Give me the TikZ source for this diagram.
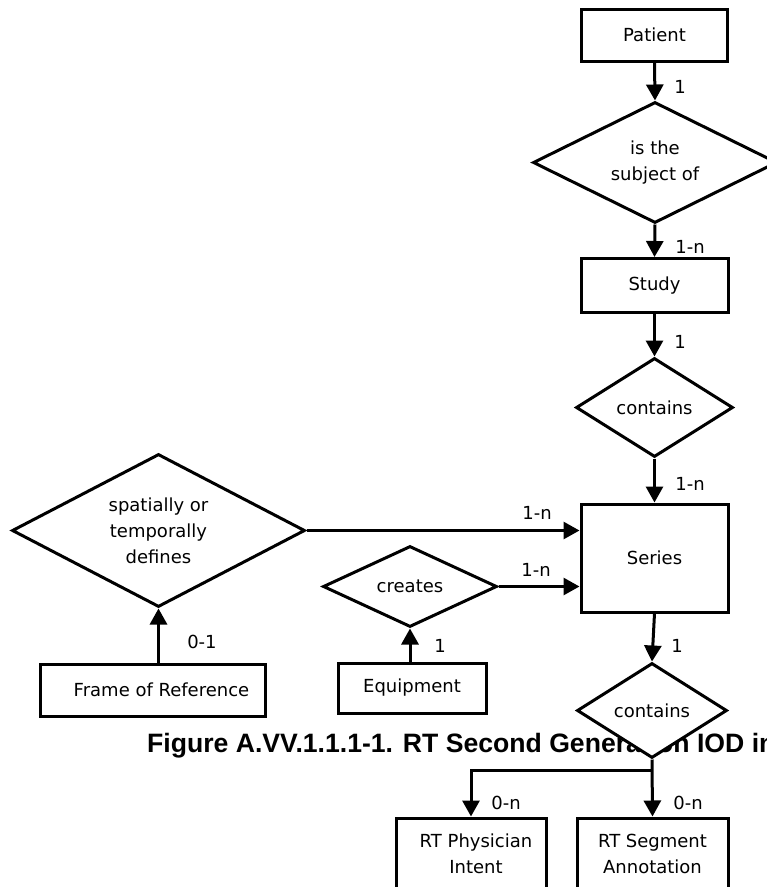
\documentclass[tikz,border=0pt]{standalone}
\usepackage{fontspec}
\setmainfont{DejaVu Sans}
\newfontfamily\captionfont{Liberation Sans}
\usetikzlibrary{shapes.geometric,arrows.meta}
\begin{document}
\begin{tikzpicture}[x=1pt,y=-1pt,
  every node/.style={font=\fontsize{18}{26}\selectfont},
  entity/.style={draw,rectangle,line width=3pt,fill=white,inner sep=0pt,align=center},
  relation/.style={draw,diamond,line width=3pt,fill=white,inner sep=0pt,aspect=2,align=center},
  link/.style={line width=3pt,-{Triangle[length=16pt,width=17pt]}},
  card/.style={inner sep=0pt}
]
\clip (0,0) rectangle (767,887);
\fill[white] (0,0) rectangle (767,887);

% caption (partly hidden behind the lower relation)
\node[anchor=base west,inner sep=0pt,font=\captionfont\bfseries\fontsize{26.6}{30}\selectfont]
  (caption) at (147,752) {Figure A.VV.1.1.1-1. RT Second Generation IOD in};

% entities
\node[entity,minimum width=146pt,minimum height=52pt]  (patient) at (654.5,35)    {Patient};
\node[entity,minimum width=147pt,minimum height=54pt]  (study)   at (654.5,285.5) {Study};
\node[entity,minimum width=147pt,minimum height=108pt] (series)  at (654.5,558)   {Series};
\node[entity,minimum width=225pt,minimum height=52pt]  (frame)   at (152.5,690)   {\hspace*{18pt}Frame of Reference};
\node[entity,minimum width=148pt,minimum height=50pt]  (equip)   at (412,688)     {Equipment};
\node[entity,minimum width=150pt,minimum height=71pt]  (phys)    at (471,853.5)   {\hspace*{10pt}RT Physician\\\hspace*{10pt}Intent};
\node[entity,minimum width=151pt,minimum height=71pt]  (seg)     at (652.5,853.5) {RT Segment\\Annotation};

% relations
\node[relation,minimum width=244pt,minimum height=121pt] (subj)    at (655,162.5)   {is the\\subject of};
\node[relation,minimum width=157pt,minimum height=99pt]  (cont1)   at (654.5,407.5) {contains};
\node[relation,minimum width=293pt,minimum height=153pt] (spat)    at (158.5,530.5) {spatially or\\temporally\\defines};
\node[relation,minimum width=174pt,minimum height=81pt]  (creates) at (410,586.5)   {creates};
\node[relation,minimum width=150pt,minimum height=95pt]  (cont2)   at (652,710.5)   {contains};

% connectors
\draw[link] (patient.south) -- (subj.north);
\draw[link] (subj.south) -- (study.north);
\draw[link] (study.south) -- (cont1.north);
\draw[link] (cont1.south) -- (series.north);
\draw[link] (spat.east) -- (spat.east -| series.west);
\draw[link] (creates.east) -- (creates.east -| series.west);
\draw[link] (spat.south |- frame.north) -- (spat.south);
\draw[link] (creates.south |- equip.north) -- (creates.south);
\draw[link] (series.south) -- (cont2.north);
\coordinate (split) at (652,770);
\draw[link] (cont2.south) -- (seg.north);
\draw[link] (split) -| (phys.north);

% cardinalities
\node[card] (c1)  at (680,87)  {1};
\node[card] (c2)  at (690,247) {1-n};
\node[card] (c3)  at (680,342) {1};
\node[card] (c4)  at (690,484) {1-n};
\node[card] (c5)  at (537,513) {1-n};
\node[card] (c6)  at (536,570) {1-n};
\node[card] (c7)  at (202,642) {0-1};
\node[card] (c8)  at (440,646) {1};
\node[card] (c9)  at (677,646) {1};
\node[card] (c10) at (506,803) {0-n};
\node[card] (c11) at (688,803) {0-n};
\end{tikzpicture}
\end{document}
